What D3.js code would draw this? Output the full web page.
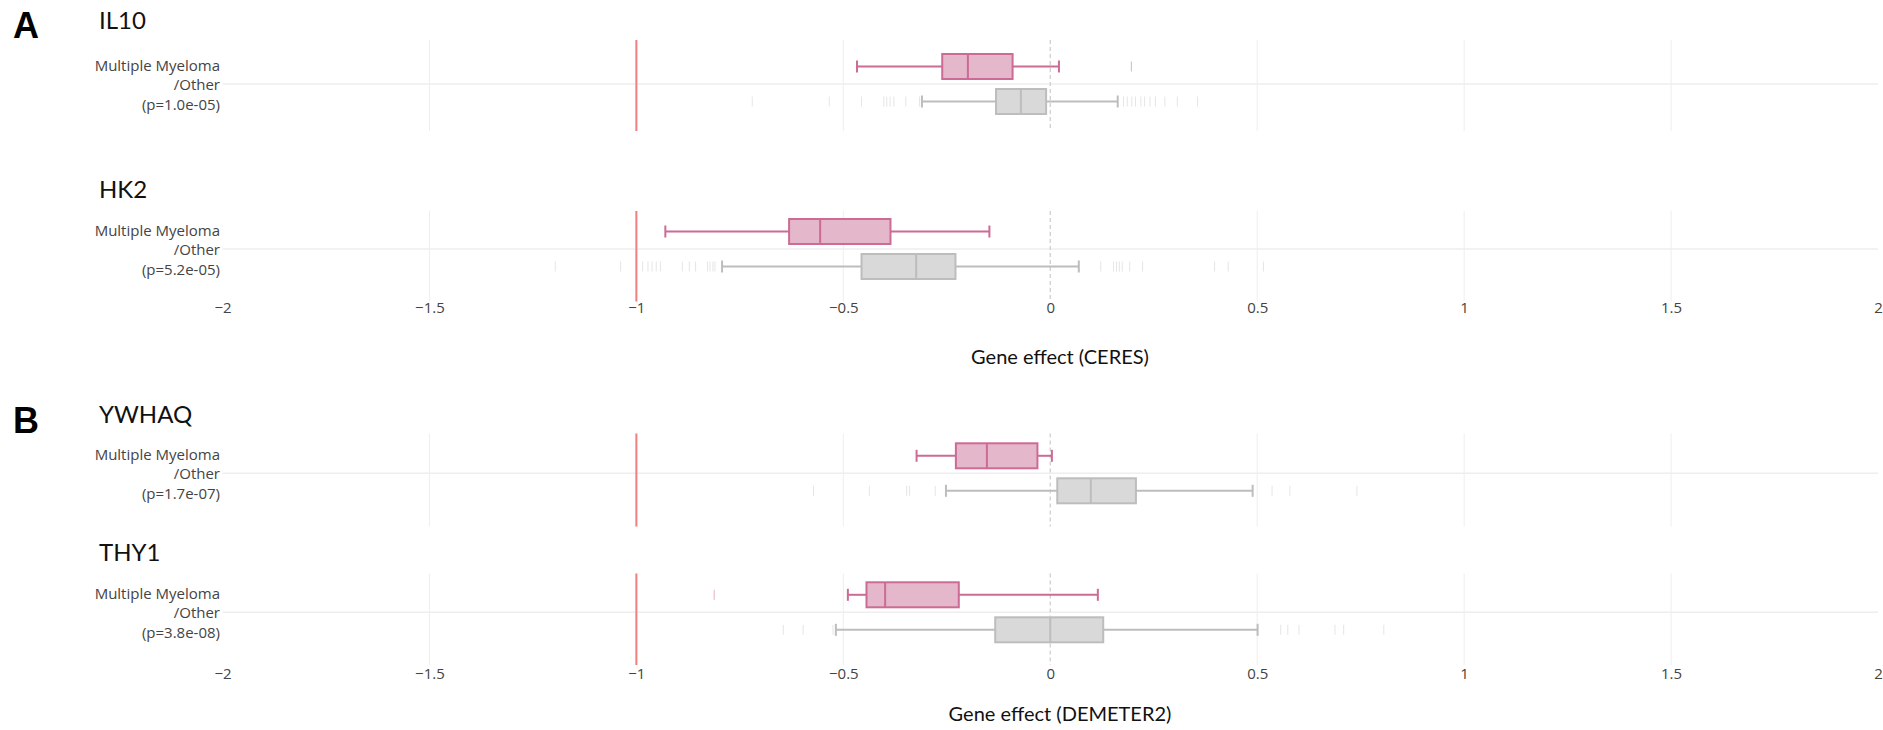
<!DOCTYPE html>
<html>
<head>
<meta charset="utf-8">
<script src="https://cdn.jsdelivr.net/npm/d3@7"></script>
<style>
  html, body { margin: 0; padding: 0; background: #fff; }
  svg { display: block; }
</style>
</head>
<body>
<svg id="chart" width="1883" height="730"></svg>
<script>
// ---- data ----
const genes = ["IL10", "HK2", "YWHAQ", "THY1"];
const pValues = ["1.0e-05", "5.2e-05", "1.7e-07", "3.8e-08"];
const groupNames = ["Multiple Myeloma", "Other"];
const metricTitles = ["Gene effect (CERES)", "Gene effect (DEMETER2)"];
const panelLetters = ["A", "B"];
const xTicks = [-2, -1.5, -1, -0.5, 0, 0.5, 1, 1.5, 2];
const threshold = -1;

// box summaries: [lower whisker, Q1, median, Q3, upper whisker]
const myelomaStats = [
  [-0.467, -0.261, -0.199, -0.091, 0.021],
  [-0.930, -0.631, -0.556, -0.386, -0.147],
  [-0.323, -0.228, -0.153, -0.031, 0.004],
  [-0.489, -0.444, -0.399, -0.221, 0.115]
];
const otherStats = [
  [-0.310, -0.131, -0.071, -0.010, 0.163],
  [-0.793, -0.456, -0.324, -0.229, 0.069],
  [-0.252, 0.017, 0.098, 0.207, 0.489],
  [-0.518, -0.133, 0.000, 0.128, 0.501]
];
const myelomaOutliers = [
  [0.196],
  [],
  [],
  [-0.812]
];
const otherOutliers = [
  [-0.720, -0.534, -0.456, -0.402, -0.395, -0.387, -0.378, -0.349, -0.316,
   0.177, 0.186, 0.197, 0.206, 0.219, 0.228, 0.241, 0.254, 0.277, 0.307, 0.356],
  [-1.196, -1.038, -0.985, -0.972, -0.962, -0.952, -0.942, -0.889, -0.872, -0.857,
   -0.828, -0.822, -0.815, -0.810,
   0.122, 0.153, 0.160, 0.167, 0.174, 0.192, 0.223, 0.397, 0.430, 0.515],
  [-0.572, -0.437, -0.347, -0.340, -0.278, 0.536, 0.579, 0.741],
  [-0.645, -0.597, -0.525, 0.557, 0.574, 0.601, 0.688, 0.709, 0.806]
];

// ---- layout ----
const panelTop = [40, 211, 433.5, 573.5];
const panelBottom = [131, 301.5, 526.5, 665];
const panelMid = [84, 249, 473.3, 612.3];
const titleBaseline = [28.5, 197.5, 422.5, 561];
const axisPanels = [1, 3];            // panels that carry the x tick labels
const tickBaseline = [317, 683.5];
const axisTitleBaseline = [364, 721];
const letterBaseline = [38, 433];

const colors = {
  mmStroke: "#cc6b95", mmFill: "#e5b7ca",
  otStroke: "#bdbdbd", otFill: "#d9d9d9",
  grid: "#eeeeee", zero: "#cfcfcf", threshold: "#ef7f7f",
  tick: "#444", label: "#444"
};

const svg = d3.select("#chart");
const x = d3.scaleLinear().domain([-2, 2]).range([222.5, 1878]);
const fmt = d3.format("~g");

genes.forEach((gene, i) => {
  const g = svg.append("g").attr("class", "panel");
  const top = panelTop[i], bottom = panelBottom[i], mid = panelMid[i];
  const y = d3.scaleBand().domain(groupNames).range([mid - 35, mid + 35]).padding(0);
  const boxH = 25;

  // vertical grid at interior ticks
  g.selectAll("line.vgrid")
    .data(xTicks.filter(t => t > -2 && t < 2 && t !== 0))
    .join("line")
    .attr("class", "vgrid")
    .attr("x1", d => x(d)).attr("x2", d => x(d))
    .attr("y1", top).attr("y2", bottom)
    .attr("stroke", colors.grid).attr("stroke-width", 1);

  // category grid line
  g.append("line")
    .attr("x1", x(-2)).attr("x2", x(2))
    .attr("y1", mid).attr("y2", mid)
    .attr("stroke", colors.grid).attr("stroke-width", 1.5);

  // zero reference (dashed)
  g.append("line")
    .attr("x1", x(0)).attr("x2", x(0))
    .attr("y1", top).attr("y2", bottom)
    .attr("stroke", colors.zero).attr("stroke-width", 1.3)
    .attr("stroke-dasharray", "4,3");

  // threshold line
  g.append("line")
    .attr("x1", x(threshold)).attr("x2", x(threshold))
    .attr("y1", top).attr("y2", bottom)
    .attr("stroke", colors.threshold).attr("stroke-width", 2);

  const groups = [
    { name: groupNames[0], stats: myelomaStats[i], outliers: myelomaOutliers[i],
      stroke: colors.mmStroke, fill: colors.mmFill, ptOpacity: 0.55 },
    { name: groupNames[1], stats: otherStats[i], outliers: otherOutliers[i],
      stroke: colors.otStroke, fill: colors.otFill, ptOpacity: 0.4 }
  ];

  groups.forEach(grp => {
    const cy = y(grp.name) + y.bandwidth() / 2;
    const [wl, q1, med, q3, wh] = grp.stats;
    const b = g.append("g");

    // outlier ticks
    b.selectAll("line.pt").data(grp.outliers).join("line")
      .attr("class", "pt")
      .attr("x1", d => x(d)).attr("x2", d => x(d))
      .attr("y1", cy - 5).attr("y2", cy + 5)
      .attr("stroke", grp.stroke).attr("stroke-opacity", grp.ptOpacity)
      .attr("stroke-width", 1);

    // whiskers
    b.append("line").attr("x1", x(wl)).attr("x2", x(q1)).attr("y1", cy).attr("y2", cy)
      .attr("stroke", grp.stroke).attr("stroke-width", 2);
    b.append("line").attr("x1", x(q3)).attr("x2", x(wh)).attr("y1", cy).attr("y2", cy)
      .attr("stroke", grp.stroke).attr("stroke-width", 2);
    [wl, wh].forEach(v => {
      b.append("line").attr("x1", x(v)).attr("x2", x(v))
        .attr("y1", cy - 6).attr("y2", cy + 6)
        .attr("stroke", grp.stroke).attr("stroke-width", 2);
    });

    // box
    b.append("rect")
      .attr("x", x(q1)).attr("width", x(q3) - x(q1))
      .attr("y", cy - boxH / 2).attr("height", boxH)
      .attr("fill", grp.fill).attr("stroke", grp.stroke).attr("stroke-width", 2);

    // median
    b.append("line").attr("x1", x(med)).attr("x2", x(med))
      .attr("y1", cy - boxH / 2).attr("y2", cy + boxH / 2)
      .attr("stroke", grp.stroke).attr("stroke-width", 2);
  });

  // category label
  const lab = g.append("text")
    .attr("text-anchor", "end")
    .attr("font-family", "'Open Sans', sans-serif")
    .attr("font-size", 15)
    .attr("fill", colors.label);
  [groupNames[0], "/" + groupNames[1], "(p=" + pValues[i] + ")"].forEach((t, k) => {
    lab.append("tspan").attr("x", 220).attr("y", mid - 13.5 + k * 19.5).text(t);
  });

  // gene title
  svg.append("text")
    .attr("x", 99).attr("y", titleBaseline[i])
    .attr("font-family", "Lato, sans-serif")
    .attr("font-size", 24)
    .attr("fill", "#111")
    .text(gene);
});

// x axes with tick labels
axisPanels.forEach((p, k) => {
  const ax = svg.append("g")
    .attr("transform", `translate(0,${tickBaseline[k] - 15})`)
    .call(d3.axisBottom(x).tickValues(xTicks).tickFormat(fmt).tickSize(0).tickPadding(0));
  ax.select(".domain").remove();
  ax.selectAll("text")
    .attr("font-family", "'Open Sans', sans-serif")
    .attr("font-size", 15)
    .attr("fill", colors.tick)
    .attr("dy", "0.71em");

  svg.append("text")
    .attr("x", 1060).attr("y", axisTitleBaseline[k])
    .attr("text-anchor", "middle")
    .attr("font-family", "Lato, sans-serif")
    .attr("font-size", 20)
    .attr("fill", "#111")
    .text(metricTitles[k]);

  svg.append("text")
    .attr("x", 13).attr("y", letterBaseline[k])
    .attr("font-family", "'Liberation Sans', Arial, sans-serif")
    .attr("font-weight", "bold")
    .attr("font-size", 36)
    .attr("fill", "#000")
    .text(panelLetters[k]);
});
</script>
</body>
</html>
